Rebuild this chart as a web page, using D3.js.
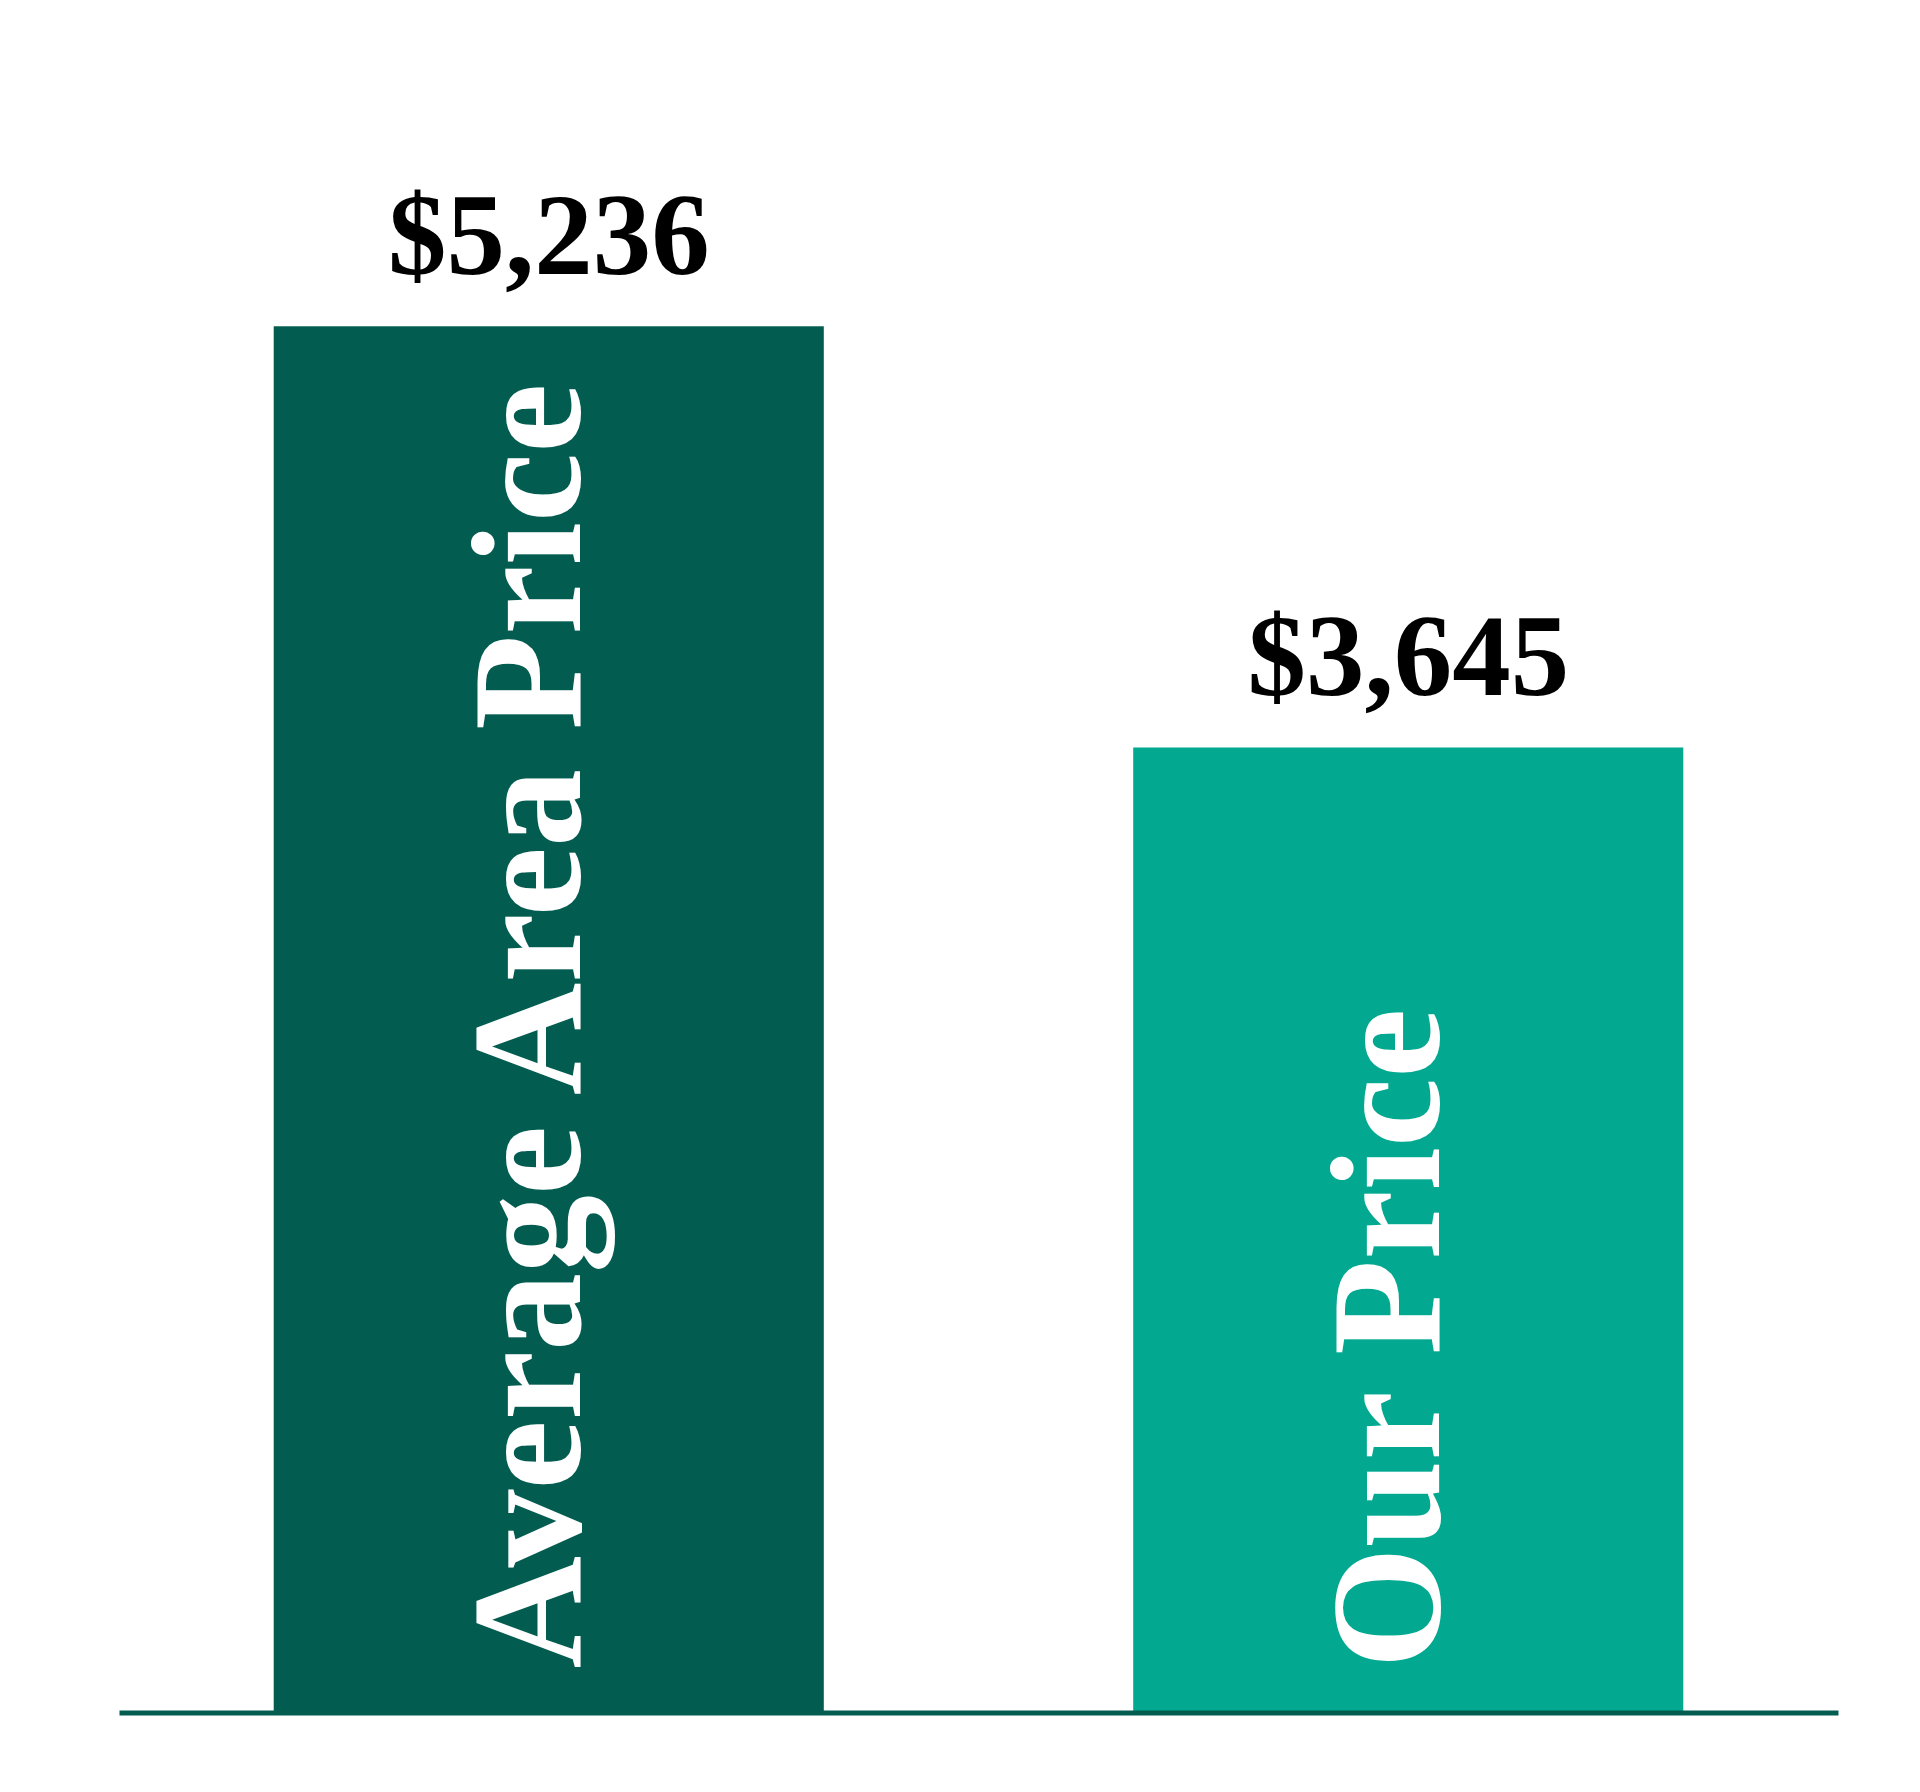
<!DOCTYPE html>
<html>
<head>
<meta charset="utf-8">
<script src="https://cdn.jsdelivr.net/npm/d3@7"></script>
<style>
  body { margin: 0; background: #ffffff; }
  svg { display: block; }
</style>
</head>
<body>
<script>
// Data
const categories = ["Average Area Price", "Our Price"];
const prices = [5236, 3645];
const barColors = ["#035c50", "#02a88f"];

// Chart dimensions
const width = 1920;
const height = 1792;
const baseY = 1712.5;

const svg = d3.select("body")
    .append("svg")
    .attr("width", width)
    .attr("height", height);

// Scales
const xScale = d3.scaleBand()
    .domain(categories)
    .range([119, 1838])
    .paddingInner(0.36)
    .paddingOuter(0.18);

const yScale = d3.scaleLinear()
    .domain([0, 6000])
    .range([baseY, 124]);

// Bars
svg.selectAll(".bar")
    .data(categories)
    .enter()
    .append("rect")
    .attr("class", "bar")
    .attr("x", d => xScale(d))
    .attr("y", (d, i) => yScale(prices[i]))
    .attr("width", xScale.bandwidth())
    .attr("height", (d, i) => baseY - yScale(prices[i]))
    .attr("fill", (d, i) => barColors[i]);

// Value labels above bars
const fmt = d3.format("$,");
svg.selectAll(".value")
    .data(categories)
    .enter()
    .append("text")
    .attr("class", "value")
    .attr("x", d => xScale(d) + xScale.bandwidth() / 2)
    .attr("y", (d, i) => yScale(prices[i]) - 52)
    .attr("text-anchor", "middle")
    .attr("font-family", "'Liberation Serif', serif")
    .attr("font-weight", "bold")
    .attr("font-size", 117)
    .attr("fill", "#000")
    .text((d, i) => fmt(prices[i]));

// Category labels inside bars, rotated
svg.selectAll(".cat")
    .data(categories)
    .enter()
    .append("text")
    .attr("class", "cat")
    .attr("transform", d => `translate(${xScale(d) + xScale.bandwidth() / 2 + 31},${baseY - 44}) rotate(-90)`)
    .attr("text-anchor", "start")
    .attr("font-family", "'Liberation Serif', serif")
    .attr("font-weight", "bold")
    .attr("font-size", 156)
    .attr("fill", "#ffffff")
    .text(d => d);

// Baseline axis
const xAxis = d3.axisBottom(xScale).tickSize(0).tickFormat("");
const axisG = svg.append("g")
    .attr("transform", `translate(0,${baseY})`)
    .call(xAxis);
axisG.select(".domain")
    .attr("stroke", "#035c50")
    .attr("stroke-width", 5);
</script>
</body>
</html>
